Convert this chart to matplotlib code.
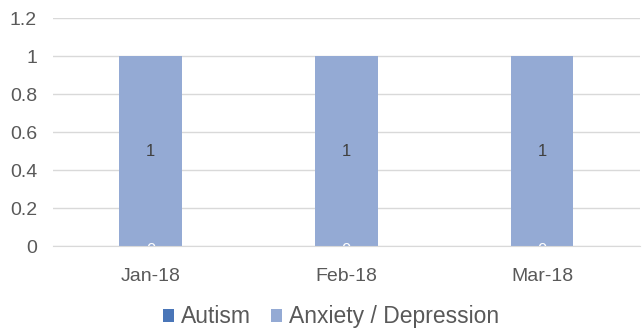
import matplotlib.pyplot as plt
import numpy as np

plt.rcParams['font.family'] = ['Liberation Sans', 'DejaVu Sans']

months = ['Jan-18', 'Feb-18', 'Mar-18']
autism = [0, 0, 0]
anxiety = [1, 1, 1]

c_aut = '#4A76B8'
c_anx = '#94AAD4'

fig = plt.figure(figsize=(6.43, 3.30), dpi=100)
ax = fig.add_axes([0.0824, 0.2545, 0.9126, 0.6905])

x = np.arange(len(months))
w = 0.32
ax.bar(x, autism, w, color=c_aut, label='Autism', zorder=2)
ax.bar(x, anxiety, w, bottom=autism, color=c_anx, label='Anxiety / Depression', zorder=2)

# data labels (the zero label sits on the axis and gets cut off, like Excel)
for i in range(len(months)):
    t = ax.text(x[i], autism[i] / 2 - 0.022, str(autism[i]), ha='center', va='center',
                color='white', fontsize=12, zorder=3)
    t.set_clip_on(True)
    t.set_clip_box(ax.bbox)
    ax.text(x[i], autism[i] + anxiety[i] / 2, str(anxiety[i]), ha='center', va='center',
            color='#404040', fontsize=12, zorder=3)

ax.set_xlim(-0.5, 2.5)
ax.set_ylim(0, 1.2)
ax.set_yticks([0, 0.2, 0.4, 0.6, 0.8, 1, 1.2])
ax.set_yticklabels(['0', '0.2', '0.4', '0.6', '0.8', '1', '1.2'])
ax.set_xticks(x)
ax.set_xticklabels(months)
ax.grid(axis='y', color='#D9D9D9', linewidth=1, zorder=0)
for s in ['top', 'right', 'left']:
    ax.spines[s].set_visible(False)
ax.spines['bottom'].set_color('#D9D9D9')
ax.spines['bottom'].set_zorder(4)
ax.tick_params(axis='both', length=0, colors='#595959', labelsize=14)
ax.tick_params(axis='x', pad=16)
ax.tick_params(axis='y', pad=11.5)

fig.legend(loc='center', bbox_to_anchor=(0.515, 0.04), ncol=2, frameon=False,
           fontsize=16.5, handlelength=0.5, handleheight=0.5, handletextpad=0.3,
           columnspacing=0.85, labelcolor='#595959')

fig.savefig('out.png', dpi=100)
